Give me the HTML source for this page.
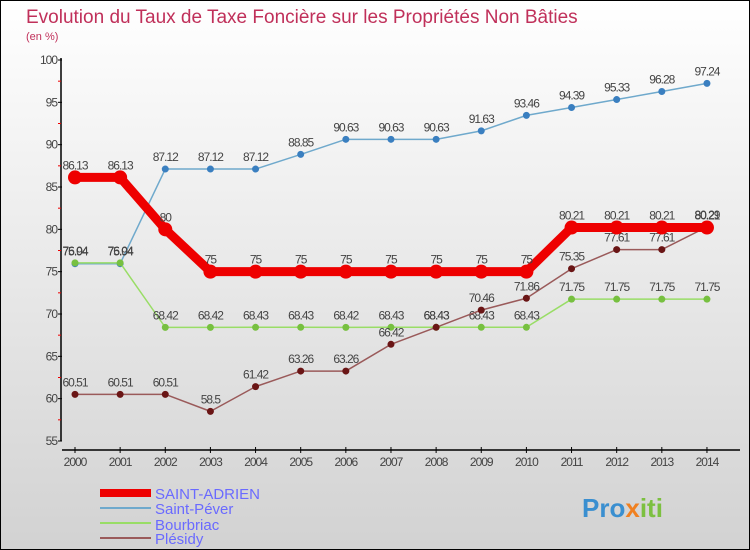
<!DOCTYPE html>
<html><head><meta charset="utf-8"><style>
body{margin:0}
#c{width:750px;height:550px;position:relative;overflow:hidden;box-sizing:border-box;border:1px solid #000;background:linear-gradient(#ffffff,#d2d2d2);font-family:"Liberation Sans",sans-serif}
</style></head><body>
<div id="c">
<svg id="s" width="750" height="550" style="position:absolute;left:-1px;top:-1px">
<text x="26" y="23" font-size="19" fill="#c0305a">Evolution du Taux de Taxe Foncière sur les Propriétés Non Bâties</text>
<text x="26" y="40" font-size="11" fill="#c0305a">(en %)</text>
<g id="axes"></g><g id="series"></g>
<g>
<rect x="100" y="489" width="51" height="8" fill="#e00"/>
<text x="155" y="499" font-size="15" fill="#6a6aff">SAINT-ADRIEN</text>
<rect x="100" y="507" width="51" height="2" fill="#6fa9cc"/>
<text x="155" y="514" font-size="15" fill="#6a6aff">Saint-Péver</text>
<rect x="100" y="522" width="51" height="2" fill="#99dd66"/>
<text x="155" y="530" font-size="15" fill="#6a6aff">Bourbriac</text>
<rect x="100" y="537" width="51" height="2" fill="#9a5a5a"/>
<text x="155" y="544" font-size="15" fill="#6a6aff">Plésidy</text>
</g>
<text x="582" y="517" font-size="26" font-weight="bold"><tspan fill="#3a8fd0">Pro</tspan><tspan fill="#f08020">x</tspan><tspan fill="#7cc040">iti</tspan></text>
</svg>
</div>
<script>
const years=[2000,2001,2002,2003,2004,2005,2006,2007,2008,2009,2010,2011,2012,2013,2014];
const yTicks=[55,60,65,70,75,80,85,90,95,100];
const saintAdrien=[86.13,86.13,80,75,75,75,75,75,75,75,75,80.21,80.21,80.21,80.21];
const saintPever=[75.94,75.94,87.12,87.12,87.12,88.85,90.63,90.63,90.63,91.63,93.46,94.39,95.33,96.28,97.24];
const bourbriac=[76.04,76.04,68.42,68.42,68.43,68.43,68.42,68.43,68.43,68.43,68.43,71.75,71.75,71.75,71.75];
const plesidy=[60.51,60.51,60.51,58.5,61.42,63.26,63.26,66.42,68.43,70.46,71.86,75.35,77.61,77.61,80.29];
const NS="http://www.w3.org/2000/svg";
const X=i=>75+i*45.14, Y=v=>441-(v-55)*(381/45);
function mk(t,a,p){const e=document.createElementNS(NS,t);for(const k in a)e.setAttribute(k,a[k]);p.appendChild(e);return e;}
const ax=document.getElementById('axes');
let l=mk('line',{x1:61,y1:58,x2:61,y2:441,stroke:'#000','stroke-width':1.5},ax);

l=mk('line',{x1:62,y1:450,x2:740,y2:450,stroke:'#000','stroke-width':1.5},ax);

yTicks.forEach(v=>{const y=Y(v);mk('line',{x1:58,y1:y,x2:62,y2:y,stroke:'#000'},ax);
 if(v<100)mk('line',{x1:58,y1:Y(v+2.5),x2:61,y2:Y(v+2.5),stroke:'#e00'},ax);
 const t=mk('text',{x:57,y:y+4,'text-anchor':'end','font-size':12,fill:'#444','letter-spacing':'-1'},ax);t.textContent=v;
 });
years.forEach((yr,i)=>{const x=X(i);mk('line',{x1:x,y1:447,x2:x,y2:453,stroke:'#000'},ax);
 const t=mk('text',{x:x,y:466,'text-anchor':'middle','font-size':12,fill:'#444','letter-spacing':'-1'},ax);t.textContent=yr;
 });
const sg=document.getElementById('series');
function draw(vals,name,col,w,r,dot){const g=mk('g',{},sg);
 
 mk('polyline',{points:vals.map((v,i)=>X(i)+','+Y(v)).join(' '),fill:'none',stroke:col,'stroke-width':w,'stroke-linejoin':'round'},g);
 vals.forEach((v,i)=>{const c=mk('circle',{cx:X(i),cy:Y(v),r:r,fill:dot},g);
  
  const t=mk('text',{x:X(i),y:Y(v)-8,'text-anchor':'middle','font-size':12,fill:'#444','letter-spacing':'-1'},g);t.textContent=v;
  });}
draw(saintPever,'saint-pever','#6fa9cc',1.5,3.5,'#3a7fc0');
draw(bourbriac,'bourbriac','#99dd66',1.5,3.5,'#77c040');
draw(plesidy,'plesidy','#9a5a5a',1.5,3.5,'#6a1515');
draw(saintAdrien,'saint-adrien','#ee0000',9,7,'#ee0000');
</script>
</body></html>
